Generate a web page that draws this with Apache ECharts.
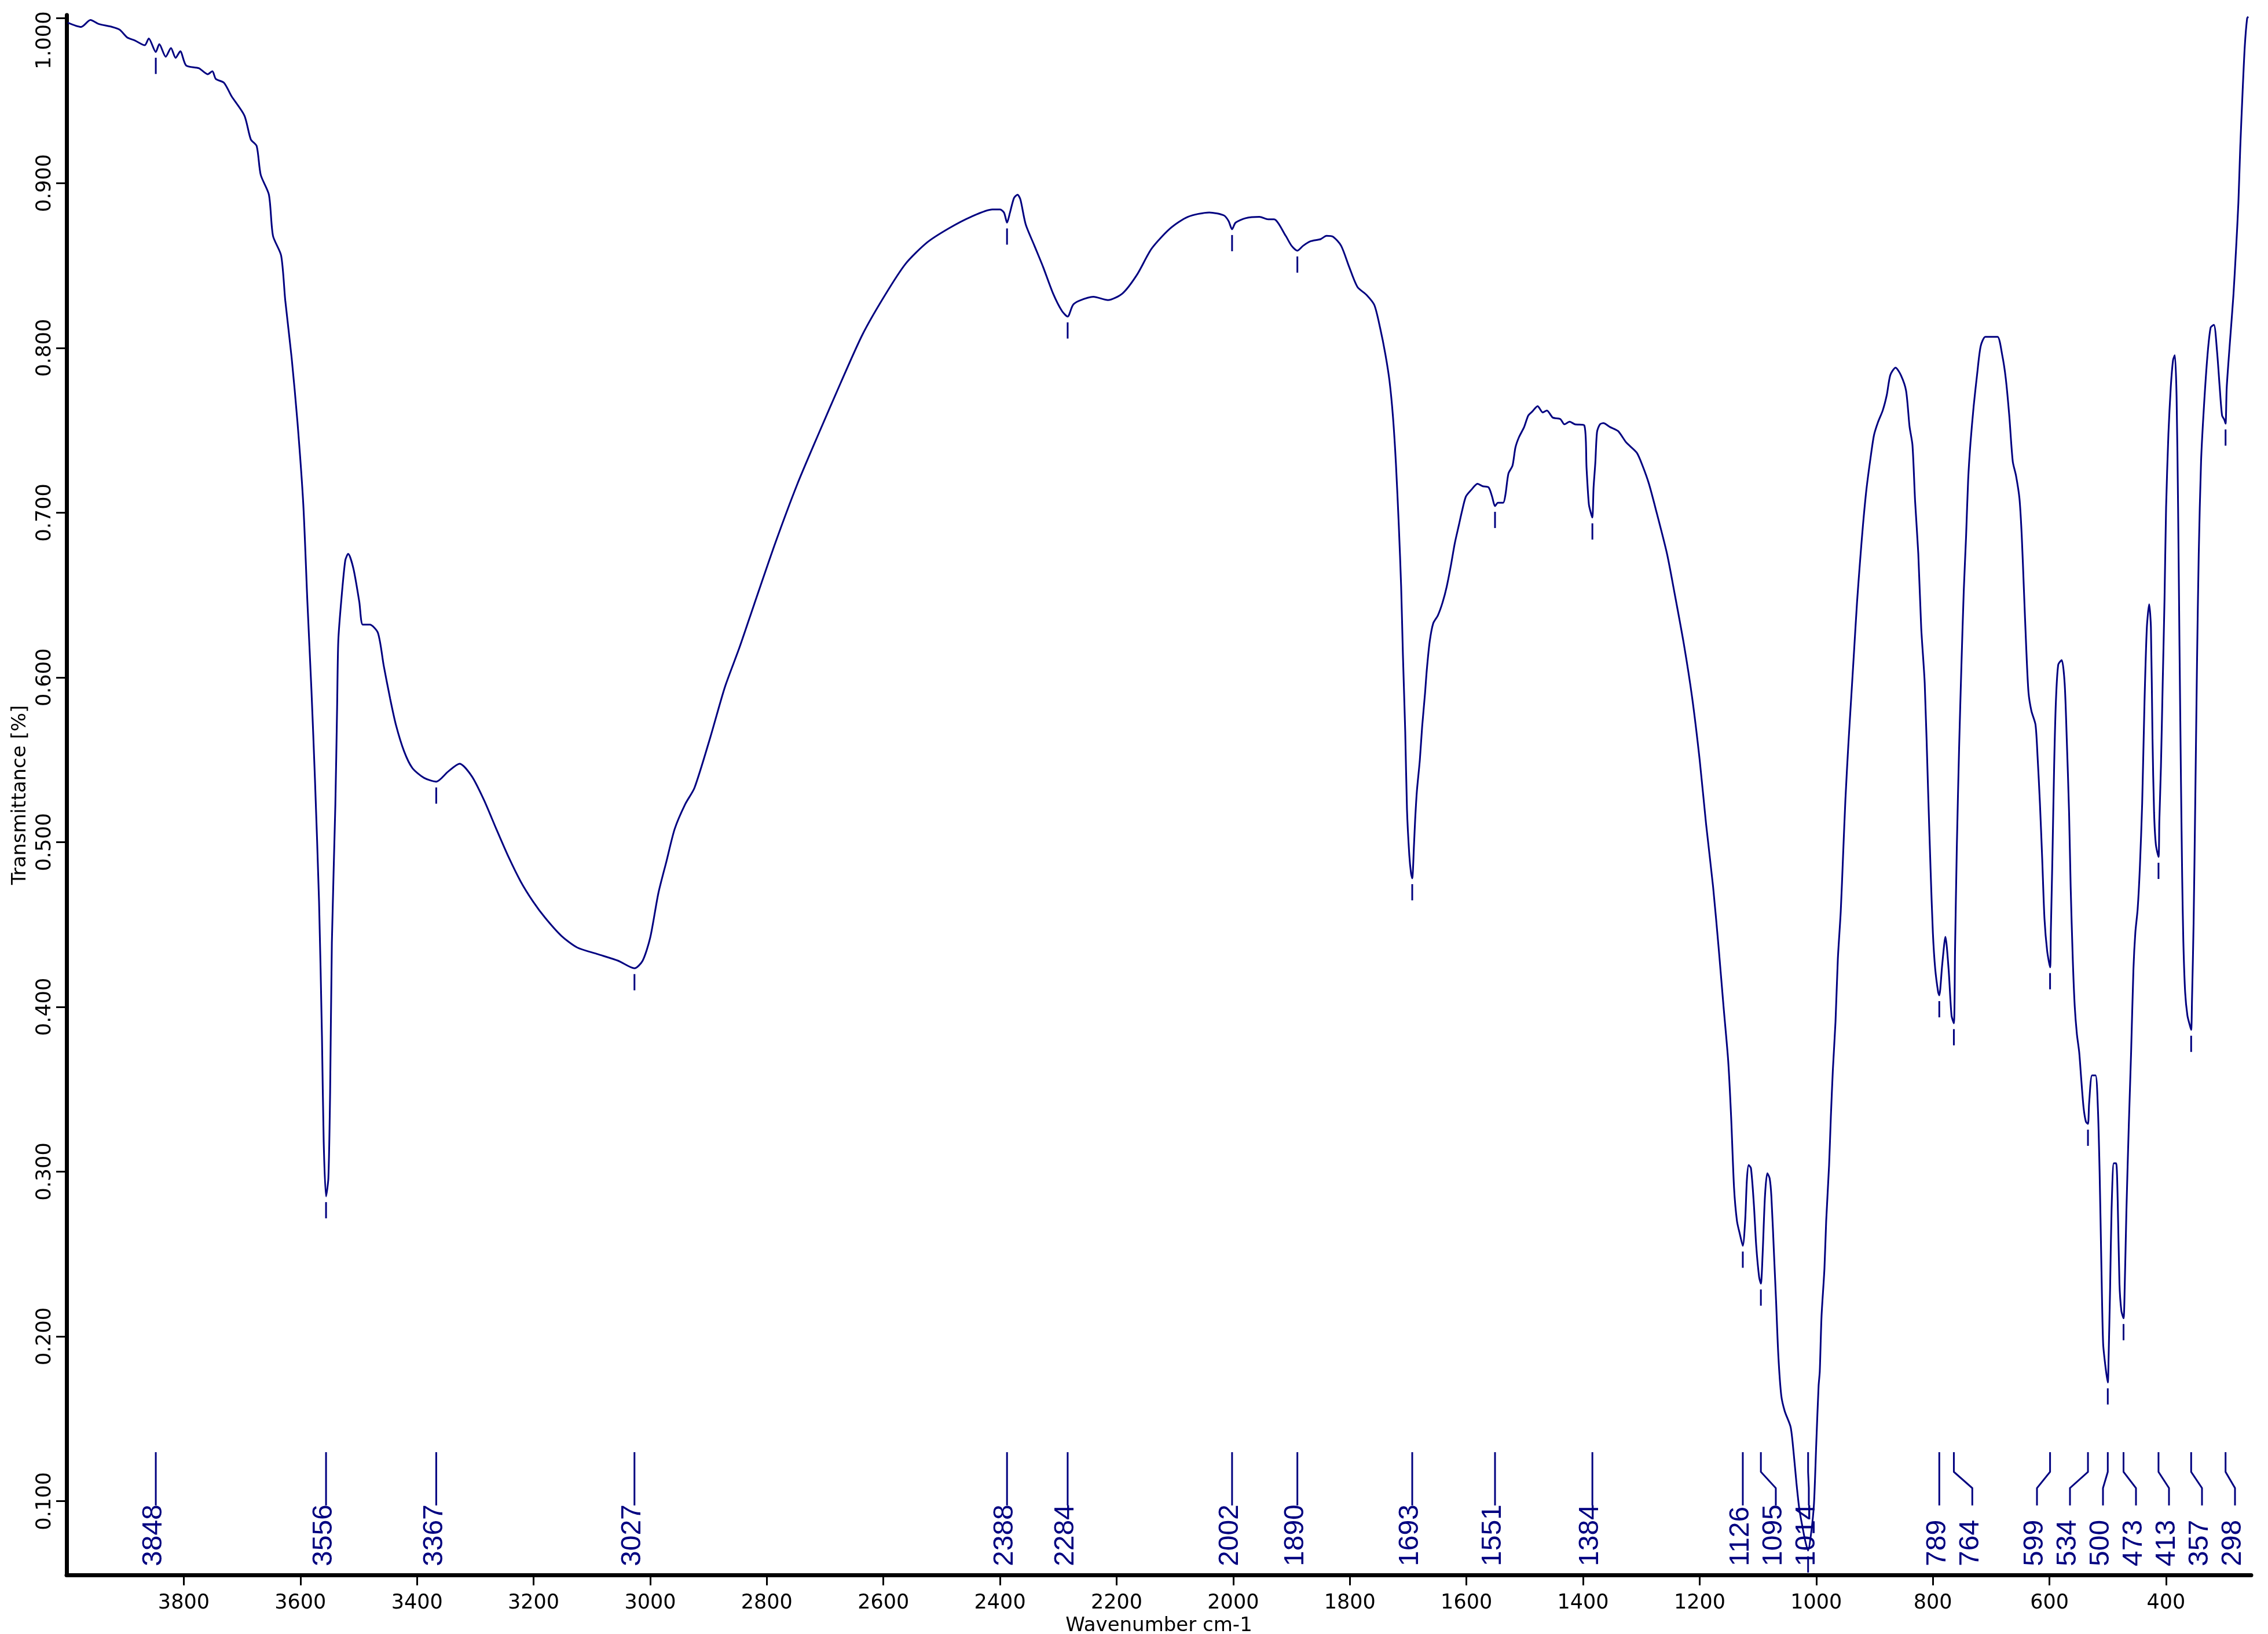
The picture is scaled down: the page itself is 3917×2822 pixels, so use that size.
<!DOCTYPE html>
<html>
<head>
<meta charset="utf-8">
<script src="https://cdn.jsdelivr.net/npm/echarts@6/dist/echarts.min.js"></script>
<style>
html,body{margin:0;padding:0;background:#ffffff;}
#chart{width:3917px;height:2822px;}
</style>
</head>
<body>
<div id="chart"></div>
<script>
// ---------------- DATA ----------------
const wavenumbers = [
 3999,3976,3960,3946,3923,3910,3897,3884,3867,3860,3848,3842,3831,3822,3814,3806,3796,3774,3759,3751,
 3745,3731,3718,3696,3685,3675,3668,3654,3647,3633,3626,3615,3605,3595,3588,3581,3575,3568,3563,3560,
 3556,3552,3549,3546,3540,3537,3535,3530,3523,3518,3509,3499,3493,3481,3467,3457,3446,3436,3422,3408,
 3388,3367,3347,3327,3306,3285,3264,3243,3222,3201,3180,3152,3125,3090,3055,3027,3013,3000,2986,2972,
 2958,2940,2924,2897,2872,2847,2822,2785,2748,2711,2673,2636,2599,2562,2525,2488,2450,2413,2400,2393,
 2388,2383,2376,2370,2365,2356,2341,2326,2309,2294,2284,2275,2264,2240,2215,2190,2165,2140,2108,2078,
 2041,2016,2008,2002,1996,1979,1955,1940,1930,1910,1900,1890,1880,1868,1850,1840,1829,1815,1801,1787,
 1771,1758,1748,1739,1732,1726,1721,1716,1712,1709,1705,1702,1698,1695,1693,1690,1688,1685,1680,1676,
 1671,1668,1663,1657,1649,1641,1634,1627,1620,1613,1608,1601,1592,1581,1572,1562,1556,1551,1546,1537,
 1533,1528,1521,1516,1510,1501,1494,1487,1478,1469,1462,1452,1439,1432,1423,1414,1398,1394,1390,1386,
 1384,1382,1379,1376,1371,1365,1354,1340,1326,1308,1298,1287,1274,1256,1243,1227,1213,1200,1189,1177,
 1167,1159,1151,1146,1141,1136,1131,1126,1122,1119,1116,1112,1107,1103,1098,1095,1092,1088,1084,1080,
 1077,1072,1069,1065,1060,1054,1044,1039,1034,1029,1024,1019,1014,1009,1004,1000,996,994,991,986,
 983,978,975,971.5,967,963,958,954,950,945,940,935,930,925,920,914,907,901,894,886,
 879,873,864,855,846,840,835,830.5,825,820,814,808,804,800,796,791,789,784,778.5,773,
 768,764,762,759,755,751,747,743,739.5,735.5,730,724,718,710,698.5,689,681,675,669,663,
 657.5,651.5,647.6,643.8,640,636,631,624,620.4,616.4,612.5,608.6,604,599,597.7,595,592,589,585,579,
 574,570.4,566.4,563.7,560,556.7,553,549,545.4,541.5,537.5,534,532,527,521,517,514,511,508,504,
 500,498.6,496,493.5,489.6,485.7,483,480,476.7,473,471,468,464,460,456,452.7,448.8,445,441,437,
 433,429,426,423.3,420.6,417.5,413,411.6,408.8,405.8,402.7,400,396,392,388,385,382,379.4,377,374.4,
 372.4,370.4,367.3,363.4,359.5,357,355.6,352.8,350,347,344,340,335,329,323.6,318,312.7,308,304,300,
 298,296,290.4,284.5,280,276,272.8,268.8,265,261,259
];
const transmittance = [
 0.9974,0.9948,0.999,0.9966,0.9948,0.9931,0.9884,0.9866,0.9837,0.9878,0.9796,0.9843,0.9767,0.982,0.976,0.980,0.9714,0.9697,0.9661,0.9679,
 0.9632,0.9609,0.9527,0.941,0.9265,0.9225,0.905,0.893,0.868,0.856,0.829,0.794,0.755,0.705,0.646,0.592,0.538,0.464,0.382,0.318,
 0.285,0.296,0.348,0.439,0.523,0.582,0.622,0.646,0.671,0.675,0.666,0.646,0.632,0.632,0.627,0.607,0.587,0.571,0.555,0.545,
 0.539,0.5367,0.5427,0.5476,0.540,0.5255,0.508,0.491,0.476,0.464,0.454,0.443,0.436,0.432,0.428,0.4234,0.428,0.442,0.469,0.4885,
 0.508,0.523,0.533,0.5635,0.594,0.618,0.644,0.682,0.717,0.748,0.779,0.808,0.831,0.851,0.864,0.8725,0.8795,0.884,0.884,0.882,
 0.876,0.882,0.891,0.893,0.89,0.875,0.862,0.849,0.833,0.8225,0.819,0.826,0.8286,0.831,0.829,0.833,0.8444,0.8602,0.8725,0.8795,
 0.8822,0.8804,0.877,0.872,0.876,0.8787,0.8795,0.878,0.878,0.868,0.862,0.859,0.862,0.8646,0.866,0.868,0.8675,0.862,0.849,0.837,
 0.832,0.826,0.812,0.796,0.780,0.758,0.730,0.692,0.655,0.614,0.567,0.520,0.492,0.481,0.478,0.498,0.5135,0.531,0.5496,0.570,
 0.5905,0.6046,0.6218,0.6328,0.6376,0.6454,0.6548,0.6673,0.6814,0.6924,0.7003,0.7097,0.7137,0.7175,0.716,0.7153,0.7097,0.704,0.706,0.706,
 0.7112,0.7237,0.7285,0.7395,0.7457,0.752,0.7589,0.7614,0.7646,0.7608,0.762,0.7577,0.7568,0.7536,0.7552,0.7536,0.753,0.727,0.705,0.699,
 0.697,0.715,0.73,0.749,0.7536,0.7543,0.752,0.7495,0.7426,0.7364,0.7285,0.7175,0.7003,0.675,0.651,0.620,0.588,0.550,0.511,0.473,
 0.434,0.400,0.367,0.333,0.290,0.270,0.262,0.255,0.27,0.295,0.304,0.302,0.28,0.255,0.236,0.232,0.25,0.285,0.299,0.296,
 0.285,0.246,0.222,0.188,0.164,0.1545,0.145,0.130,0.111,0.095,0.085,0.076,0.070,0.080,0.098,0.135,0.170,0.1786,0.212,0.241,
 0.270,0.304,0.333,0.362,0.391,0.429,0.458,0.492,0.526,0.559,0.588,0.617,0.646,0.670,0.692,0.714,0.733,0.747,0.755,0.762,
 0.7715,0.7835,0.788,0.7835,0.774,0.7522,0.741,0.707,0.675,0.630,0.5965,0.529,0.484,0.445,0.423,0.409,0.407,0.4256,0.4425,0.4228,
 0.3947,0.390,0.434,0.4956,0.5573,0.6077,0.6527,0.686,0.7198,0.7423,0.7647,0.7843,0.801,0.8067,0.8067,0.8067,0.7955,0.7815,0.759,0.7311,
 0.7226,0.7086,0.6862,0.6527,0.619,0.5909,0.5796,0.5713,0.5517,0.5237,0.49,0.4536,0.434,0.424,0.4453,0.49,0.5462,0.5853,0.6077,0.6105,
 0.5965,0.563,0.518,0.4733,0.4285,0.4004,0.3835,0.3724,0.3556,0.3388,0.3303,0.329,0.3416,0.3584,0.3584,0.3388,0.2995,0.2436,0.1958,0.1817,
 0.172,0.1873,0.2295,0.277,0.3051,0.3051,0.2826,0.2323,0.2155,0.211,0.2295,0.277,0.3276,0.3724,0.4228,0.4453,0.4592,0.4844,0.5237,0.5853,
 0.6302,0.6443,0.6302,0.563,0.518,0.4984,0.491,0.5125,0.5462,0.5965,0.6471,0.703,0.7478,0.7759,0.7927,0.7955,0.7703,0.703,0.619,0.535,
 0.4788,0.4397,0.4088,0.3947,0.3891,0.386,0.4032,0.451,0.5237,0.6077,0.6749,0.7311,0.7647,0.7955,0.8123,0.814,0.7983,0.7759,0.759,0.7563,
 0.754,0.7759,0.8039,0.832,0.8599,0.888,0.9216,0.9552,0.9832,1.0,1.001
];
const peakWavenumbers = [3848,3556,3367,3027,2388,2284,2002,1890,1693,1551,1384,1126,1095,1014,789,764,599,534,500,473,413,357,298];
const peakTransmittance = [0.9796,0.285,0.5367,0.4234,0.876,0.819,0.872,0.859,0.478,0.704,0.697,0.255,0.232,0.070,0.407,0.390,0.424,0.329,0.172,0.211,0.491,0.386,0.754];
const xTickValues = [3800,3600,3400,3200,3000,2800,2600,2400,2200,2000,1800,1600,1400,1200,1000,800,600,400];
const yTickValues = [0.1,0.2,0.3,0.4,0.5,0.6,0.7,0.8,0.9,1.0];

// ---------------- CHART ----------------
const NAVY = '#000080';
const spectrum = wavenumbers.map((w, i) => [w, transmittance[i]]);
const peaks = peakWavenumbers.map((w, i) => [w, peakTransmittance[i]]);

const LABEL_GAP = 57;   // min distance between peak labels (px)
const EDGE_PAD = 28;    // keep peak labels this far from plot's right end

function peakLayout(api, cs) {
  const xs = peakWavenumbers.map(w => api.coord([w, 0.5])[0]);
  const order = xs.map((x, i) => i).sort((a, b) => xs[a] - xs[b]);
  const pos = new Array(xs.length);
  let prev = -Infinity;
  order.forEach(i => { const p = Math.max(xs[i], prev + LABEL_GAP); pos[i] = p; prev = p; });
  let next = cs.x + cs.width - EDGE_PAD;
  for (let k = order.length - 1; k >= 0; k--) {
    const i = order[k];
    const p = Math.min(pos[i], next);
    pos[i] = p;
    next = p - LABEL_GAP;
  }
  return { xs, pos };
}

function renderPeak(params, api) {
  const cs = params.coordSys;
  const bottom = cs.y + cs.height;
  const lay = peakLayout(api, cs);
  const i = params.dataIndex;
  const pt = api.coord([api.value(0), api.value(1)]);
  const px = lay.xs[i];
  const lx = lay.pos[i];
  return {
    type: 'group',
    children: [
      { type: 'line', shape: { x1: px, y1: pt[1] + 10, x2: px, y2: pt[1] + 38 },
        style: { stroke: NAVY, lineWidth: 3 } },
      { type: 'polyline',
        shape: { points: [[px, bottom - 212], [px, bottom - 178], [lx, bottom - 150], [lx, bottom - 120]] },
        style: { stroke: NAVY, lineWidth: 3, fill: 'none' } },
      { type: 'text', x: lx - 3, y: bottom - 15, rotation: Math.PI / 2,
        style: { text: String(peakWavenumbers[i]), fill: NAVY, fontSize: 48,
                 fontFamily: 'Liberation Sans', align: 'left', verticalAlign: 'middle' } }
    ]
  };
}

const chart = echarts.init(document.getElementById('chart'), null, { renderer: 'canvas', width: 3917, height: 2822 });
chart.setOption({
  animation: false,
  backgroundColor: '#ffffff',
  grid: { left: 115, right: 29, top: 26, bottom: 102, containLabel: false, outerBoundsMode: 'none' },
  xAxis: {
    type: 'value', inverse: true, min: 254, max: 4001,
    name: 'Wavenumber cm-1', nameLocation: 'middle', nameGap: 61,
    nameTextStyle: { color: '#000', fontSize: 34, fontFamily: 'DejaVu Sans' },
    axisLine: { show: true, onZero: false, lineStyle: { color: '#000', width: 7 } },
    axisTick: { show: true, length: 18, customValues: xTickValues, lineStyle: { color: '#000', width: 3 } },
    axisLabel: { show: true, customValues: xTickValues, margin: 31, color: '#000', fontSize: 35,
                 fontFamily: 'DejaVu Sans', formatter: v => String(Math.round(v)) },
    splitLine: { show: false }
  },
  yAxis: {
    type: 'value', min: 0.0552, max: 1.002,
    name: 'Transmittance [%]', nameLocation: 'middle', nameGap: 60,
    nameTextStyle: { color: '#000', fontSize: 34, fontFamily: 'DejaVu Sans' },
    axisLine: { show: true, onZero: false, lineStyle: { color: '#000', width: 7 } },
    axisTick: { show: true, length: 18, customValues: yTickValues, lineStyle: { color: '#000', width: 3 } },
    axisLabel: {
      show: true, customValues: yTickValues, rotate: 90, margin: 20, color: '#000', fontSize: 35,
      fontFamily: 'DejaVu Sans',
      formatter: v => Math.abs(v - 1) < 1e-9 ? '{top|1.000}' : v.toFixed(3),
      rich: { top: { padding: [0, 76, 0, 0], color: '#000', fontSize: 35, fontFamily: 'DejaVu Sans' } }
    },
    splitLine: { show: false }
  },
  series: [
    { type: 'line', data: spectrum, showSymbol: false, symbol: 'none', smooth: 0.25,
      lineStyle: { color: NAVY, width: 3 }, silent: true, z: 2 },
    { type: 'custom', data: peaks, renderItem: renderPeak, clip: false, silent: true, z: 3 }
  ]
});
</script>
</body>
</html>
